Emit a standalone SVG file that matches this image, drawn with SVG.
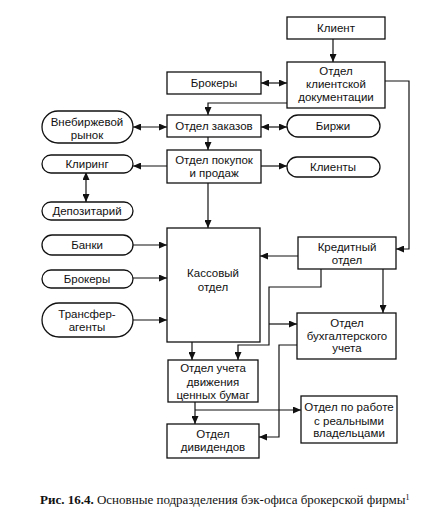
<svg xmlns="http://www.w3.org/2000/svg" width="433" height="510" viewBox="0 0 433 510">
<style>
.b{fill:#fff;stroke:#111;stroke-width:1.3}
.t{font-family:"Liberation Sans",Arial,sans-serif;font-size:11.5px;fill:#111;text-anchor:middle}
.c{fill:none;stroke:#111;stroke-width:1.2}
.cap{font-family:"Liberation Serif","Times New Roman",serif;font-size:13px;fill:#111}
</style>
<defs>
<marker id="a" viewBox="0 0 10 10" refX="10" refY="5" markerWidth="8" markerHeight="7" markerUnits="userSpaceOnUse" orient="auto-start-reverse" preserveAspectRatio="none">
<path d="M0,0 L10,5 L0,10 z" fill="#111"/>
</marker>
</defs>
<rect width="433" height="510" fill="#fff"/>
<g id="connectors">
<path class="c" d="M333,39 V62" marker-end="url(#a)"/>
<path class="c" d="M261,83 H287" marker-start="url(#a)" marker-end="url(#a)"/>
<path class="c" d="M385,81 H409 V249 H396" marker-end="url(#a)"/>
<path class="c" d="M287,103 H208 V115" marker-end="url(#a)"/>
<path class="c" d="M133,127 H167" marker-start="url(#a)" marker-end="url(#a)"/>
<path class="c" d="M261,127 H287" marker-start="url(#a)" marker-end="url(#a)"/>
<path class="c" d="M208,137 V150" marker-end="url(#a)"/>
<path class="c" d="M167,166 H133" marker-end="url(#a)"/>
<path class="c" d="M261,166 H287" marker-end="url(#a)"/>
<path class="c" d="M86,172 V202" marker-start="url(#a)" marker-end="url(#a)"/>
<path class="c" d="M208,183 V228" marker-end="url(#a)"/>
<path class="c" d="M133,245 H167" marker-end="url(#a)"/>
<path class="c" d="M133,278 H167" marker-end="url(#a)"/>
<path class="c" d="M133,320 H167" marker-end="url(#a)"/>
<path class="c" d="M298,256 H260" marker-end="url(#a)"/>
<path class="c" d="M383,269 V313" marker-end="url(#a)"/>
<path class="c" d="M321,269 V287 H269 V345 H238 V360" marker-end="url(#a)"/>
<path class="c" d="M269,324 H297" marker-end="url(#a)"/>
<path class="c" d="M192,342 V360" marker-end="url(#a)"/>
<path class="c" d="M195,402 V424" marker-end="url(#a)"/>
<path class="c" d="M195,410 H301" marker-end="url(#a)"/>
<path class="c" d="M297,345 H279 V437 H259" marker-end="url(#a)"/>
</g>
<g id="klient"><rect class="b" x="287" y="17" width="98" height="22"/><text class="t" x="336" y="32">Клиент</text></g>
<g id="okd"><rect class="b" x="287" y="62" width="98" height="46"/><text class="t" x="336" y="75">Отдел</text><text class="t" x="336" y="88">клиентской</text><text class="t" x="336" y="101">документации</text></g>
<g id="brokery1"><rect class="b" x="167" y="72" width="94" height="22"/><text class="t" x="214" y="87">Брокеры</text></g>
<g id="vnebirzh"><rect class="b" x="42" y="111" width="91" height="32" rx="16"/><text class="t" x="87" y="126">Внебиржевой</text><text class="t" x="87" y="139">рынок</text></g>
<g id="zakazy"><rect class="b" x="167" y="115" width="94" height="22"/><text class="t" x="214" y="130">Отдел заказов</text></g>
<g id="birzhi"><rect class="b" x="287" y="115" width="93" height="22" rx="11"/><text class="t" x="333" y="130">Биржи</text></g>
<g id="pokupki"><rect class="b" x="167" y="150" width="94" height="33"/><text class="t" x="214" y="164">Отдел покупок</text><text class="t" x="214" y="177">и продаж</text></g>
<g id="kliring"><rect class="b" x="42" y="155" width="91" height="18" rx="9"/><text class="t" x="87" y="168">Клиринг</text></g>
<g id="klienty"><rect class="b" x="287" y="157" width="93" height="20" rx="10"/><text class="t" x="333" y="171">Клиенты</text></g>
<g id="depo"><rect class="b" x="42" y="202" width="91" height="18" rx="9"/><text class="t" x="87" y="215">Депозитарий</text></g>
<g id="kassa"><rect class="b" x="167" y="228" width="93" height="114"/><text class="t" x="213" y="277">Кассовый</text><text class="t" x="213" y="291">отдел</text></g>
<g id="banki"><rect class="b" x="42" y="235" width="91" height="20" rx="10"/><text class="t" x="87" y="249">Банки</text></g>
<g id="brokery2"><rect class="b" x="42" y="270" width="91" height="18" rx="9"/><text class="t" x="87" y="283">Брокеры</text></g>
<g id="transfer"><rect class="b" x="42" y="303" width="91" height="34" rx="17"/><text class="t" x="87" y="318">Трансфер-</text><text class="t" x="87" y="331">агенты</text></g>
<g id="kredit"><rect class="b" x="298" y="237" width="98" height="32"/><text class="t" x="347" y="251">Кредитный</text><text class="t" x="347" y="264">отдел</text></g>
<g id="buh"><rect class="b" x="297" y="313" width="99" height="46"/><text class="t" x="347" y="327">Отдел</text><text class="t" x="347" y="340">бухгалтерского</text><text class="t" x="347" y="352">учета</text></g>
<g id="uchet"><rect class="b" x="168" y="360" width="90" height="42"/><text class="t" x="213" y="372">Отдел учета</text><text class="t" x="213" y="386">движения</text><text class="t" x="213" y="399">ценных бумаг</text></g>
<g id="vladel"><rect class="b" x="301" y="396" width="96" height="47"/><text class="t" x="349" y="411">Отдел по работе</text><text class="t" x="349" y="425">с реальными</text><text class="t" x="349" y="437">владельцами</text></g>
<g id="divid"><rect class="b" x="167" y="424" width="92" height="34"/><text class="t" x="213" y="438">Отдел</text><text class="t" x="213" y="451">дивидендов</text></g>
<text class="cap" x="40" y="504"><tspan font-weight="bold">Рис. 16.4.</tspan> Основные подразделения бэк-офиса брокерской фирмы<tspan font-size="8" dy="-4">1</tspan></text>
</svg>
